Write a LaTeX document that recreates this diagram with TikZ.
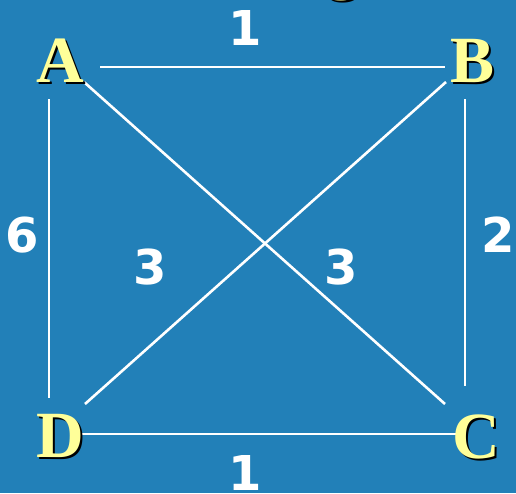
\documentclass[tikz,border=0pt]{standalone}
\usepackage{fontspec}
\setmainfont{Liberation Serif}
\newfontfamily\numfont{DejaVu Sans}
\definecolor{bgblue}{RGB}{34,128,184}
\definecolor{letteryellow}{RGB}{255,255,153}
\begin{document}
\begin{tikzpicture}[x=1pt,y=-1pt,
  letter/.style={inner sep=0pt,text=letteryellow,font=\fontsize{66}{66}\selectfont\bfseries},
  shadowletter/.style={inner sep=0pt,text=black,font=\fontsize{66}{66}\selectfont\bfseries},
  weight/.style={inner sep=0pt,text=white,font=\numfont\bfseries\fontsize{48}{48}\selectfont},
  edge/.style={draw=white,line width=2.6pt}]
\fill[bgblue] (0,0) rectangle (516,493);
\useasboundingbox (0,0) rectangle (516,493);
% edge end points
\coordinate (ab1) at (100,67);  \coordinate (ab2) at (445,67);
\coordinate (ac1) at (84,82);   \coordinate (ac2) at (445,404);
\coordinate (bd1) at (446,82);  \coordinate (bd2) at (85,404);
\coordinate (ad1) at (49,99);   \coordinate (ad2) at (49,398);
\coordinate (bc1) at (465,99);  \coordinate (bc2) at (465,386);
\coordinate (dc1) at (80,434);  \coordinate (dc2) at (462,434);
\draw[edge] (ab1) -- (ab2);
\draw[edge] (ac1) -- (ac2);
\draw[edge] (bd1) -- (bd2);
\draw[edge] (ad1) -- (ad2);
\draw[edge] (bc1) -- (bc2);
\draw[edge] (dc1) -- (dc2);
% title fragment
\node[shadowletter,anchor=base] at (344,-12) {g};
\node[letter,anchor=base] (title) at (342,-14) {g};
% vertices
\node[shadowletter] at (62,63) {A};
\node[letter] (A) at (60,61) {A};
\node[shadowletter] at (475,63) {B};
\node[letter] (B) at (473,61) {B};
\node[shadowletter] at (478,439) {C};
\node[letter] (C) at (476,437) {C};
\node[shadowletter] at (62,438) {D};
\node[letter] (D) at (60,436) {D};
% weights
\node[weight] (wab) at (245,28) {1};
\node[weight] (wad) at (22,235) {6};
\node[weight] (wbc) at (498,235) {2};
\node[weight] (wbd) at (150,267) {3};
\node[weight] (wac) at (341,267) {3};
\node[weight] (wdc) at (245,473) {1};
\end{tikzpicture}
\end{document}
